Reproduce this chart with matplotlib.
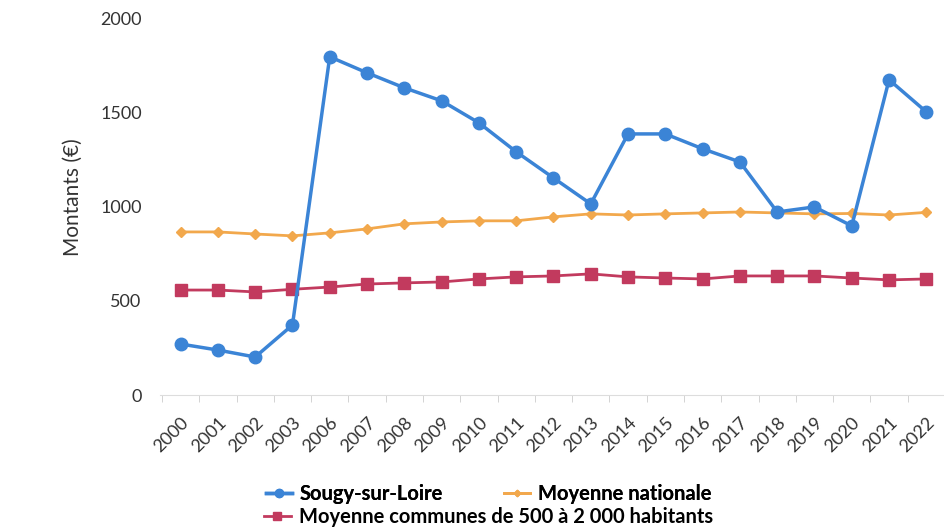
import matplotlib.pyplot as plt
import numpy as np

plt.rcParams['font.family'] = ['Lato', 'DejaVu Sans']

annees = ['2000', '2001', '2002', '2003', '2006', '2007', '2008', '2009', '2010', '2011',
          '2012', '2013', '2014', '2015', '2016', '2017', '2018', '2019', '2020', '2021', '2022']
sougy = [271, 239, 202, 372, 1798, 1713, 1633, 1564, 1447, 1293,
         1154, 1016, 1388, 1388, 1309, 1239, 973, 1000, 899, 1676, 1505]
nationale = [867, 867, 856, 846, 862, 883, 910, 920, 926, 926,
             947, 963, 957, 963, 968, 973, 968, 963, 965, 957, 971]
communes = [558, 558, 548, 562, 574, 590, 596, 601, 617, 628,
            633, 644, 628, 622, 617, 633, 633, 633, 622, 612, 617]

bleu = '#3b84d6'
orange = '#f2a84c'
rouge = '#c23a5e'

fig = plt.figure(figsize=(9.45, 5.29), dpi=100)
ax = fig.add_axes([0.169, 0.2533, 0.831, 0.7467])

x = np.arange(len(annees))
l1, = ax.plot(x, sougy, color=bleu, lw=2.5, marker='o', ms=9, label='Sougy-sur-Loire', zorder=3)
l2, = ax.plot(x, nationale, color=orange, lw=2, marker='D', ms=5, label='Moyenne nationale', zorder=2)
l3, = ax.plot(x, communes, color=rouge, lw=2, marker='s', ms=9,
              label='Moyenne communes de 500 à 2 000 habitants', zorder=2)

ax.set_xlim(-0.56, 20.29)
ax.set_ylim(0, 2100)
ax.set_xticks(x)
ax.set_xticklabels(annees, rotation=45, ha='right', rotation_mode='anchor', fontsize=13, color='#333333')
ax.set_xticks(np.arange(len(annees) + 1) - 0.5, minor=True)
ax.tick_params(axis='x', which='major', length=0, pad=14)
ax.tick_params(axis='x', which='minor', length=5, color='#cccccc')
ax.set_yticks([0, 500, 1000, 1500, 2000])
ax.tick_params(axis='y', length=0, pad=13, labelsize=13, labelcolor='#333333')
ax.set_ylabel('Montants (€)', fontsize=15, color='#333333', labelpad=12)

for s in ['top', 'right', 'left']:
    ax.spines[s].set_visible(False)
ax.spines['bottom'].set_color('#dddddd')

leg1 = fig.legend(handles=[l1, l2], loc='center', bbox_to_anchor=(0.517, 0.066), ncol=2,
                  frameon=False, prop={'weight': 'bold', 'size': 14.5}, handlelength=1.3,
                  markerscale=0.65, columnspacing=3.0, handletextpad=0.4, borderpad=0)
leg2 = fig.legend(handles=[l3], loc='center', bbox_to_anchor=(0.517, 0.023),
                  frameon=False, prop={'weight': 'bold', 'size': 14.5}, handlelength=1.3,
                  markerscale=0.65, handletextpad=0.4, borderpad=0)
fig.add_artist(leg1)

fig.savefig('out.png', dpi=100)
